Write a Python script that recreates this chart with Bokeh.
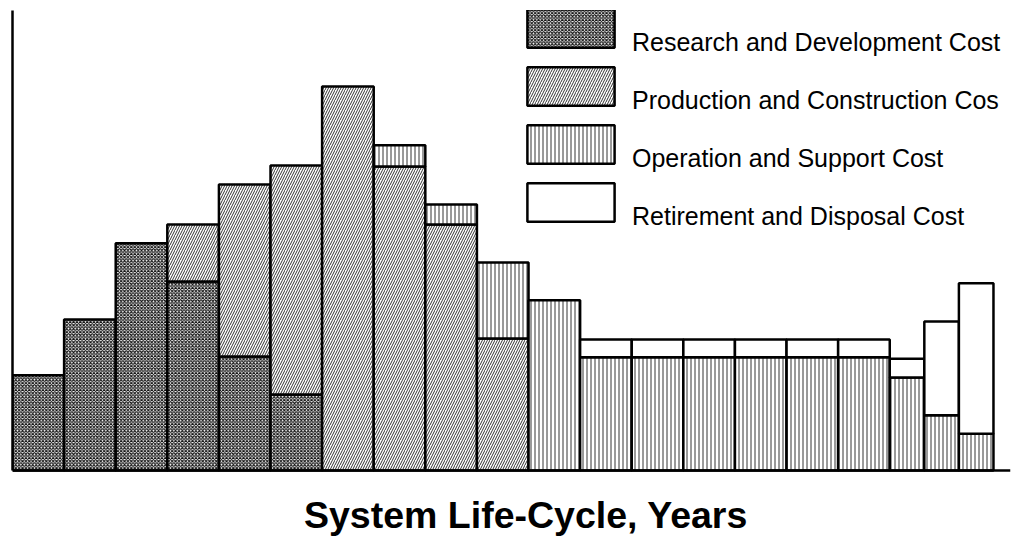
import numpy as np
from bokeh.plotting import figure
from bokeh.models import ColumnDataSource, Span, Legend, LegendItem, Label, Range1d
from bokeh.embed import file_html
from bokeh.resources import INLINE

# ---- data (cost units) ----
period_width = [1, 1, 1, 1, 1, 1, 1, 1, 1, 1, 1, 1, 1, 1, 1, 1, 1, 0.67, 0.67, 0.67]
research_dev = [20.7, 32.8, 49.4, 41.1, 24.8, 16.5, 0, 0, 0, 0, 0, 0, 0, 0, 0, 0, 0, 0, 0, 0]
production = [0, 0, 0, 12.4, 37.4, 49.8, 83.5, 66.1, 53.5, 28.7, 0, 0, 0, 0, 0, 0, 0, 0, 0, 0]
operation = [0, 0, 0, 0, 0, 0, 0, 4.6, 4.3, 16.5, 37.0, 24.6, 24.6, 24.6, 24.6, 24.6, 24.6, 20.2, 12.0, 8.0]
retirement = [0, 0, 0, 0, 0, 0, 0, 0, 0, 0, 0, 3.9, 3.9, 3.9, 3.9, 3.9, 3.9, 4.1, 20.4, 32.7]
series_names = ["Research and Development Cost", "Production and Construction Cos",
                "Operation and Support Cost", "Retirement and Disposal Cost"]
x_label = "System Life-Cycle, Years"

series = [research_dev, production, operation, retirement]
styles = [
    dict(fill_color="white", hatch_pattern="x", hatch_scale=3.4, hatch_weight=1.1, hatch_color="#111111"),
    dict(fill_color="white", hatch_pattern="/", hatch_scale=5.0, hatch_weight=1.0, hatch_color="#333333"),
    dict(fill_color="white", hatch_pattern="|", hatch_scale=4.0, hatch_weight=1.0, hatch_color="#333333"),
    dict(fill_color="white"),
]

widths = np.array(period_width, dtype=float)
right_edges = np.cumsum(widths)
left_edges = right_edges - widths

# frame extends to the bottom of the canvas; value 0 sits 66 px above it
p = figure(width=1014, height=536, output_backend="svg", toolbar_location=None,
           x_range=Range1d(0, 19.34), y_range=Range1d(-14.35, 100),
           x_axis_location=None, y_axis_location="left",
           min_border_left=12, min_border_right=4, min_border_top=10, min_border_bottom=0)
p.outline_line_color = None
p.xgrid.visible = False
p.ygrid.visible = False
p.background_fill_color = "white"
p.border_fill_color = "white"

ay = p.yaxis[0]
ay.bounds = (0, 100)
ay.axis_line_width = 2.5
ay.axis_line_color = "black"
ay.major_tick_line_color = None
ay.minor_tick_line_color = None
ay.major_tick_out = 0
ay.major_tick_in = 0
ay.minor_tick_out = 0
ay.minor_tick_in = 0
ay.major_label_standoff = 0
ay.major_label_text_font_size = "0px"
ay.major_label_text_color = None

bottom = np.zeros(len(widths))
renderers = []
for vals, st in zip(series, styles):
    v = np.array(vals, dtype=float)
    mask = v > 0
    src = ColumnDataSource(dict(left=left_edges[mask], right=right_edges[mask],
                                bottom=bottom[mask], top=(bottom + v)[mask]))
    r = p.quad(left="left", right="right", bottom="bottom", top="top", source=src,
               line_color="black", line_width=2.5, **st)
    renderers.append(r)
    bottom = bottom + v

# x axis line at value 0
p.add_layout(Span(location=0, dimension="width", line_color="black", line_width=2.5))

legend = Legend(items=[LegendItem(label="\n" + n, renderers=[r]) for n, r in zip(series_names, renderers)],
                location=(504, 305), orientation="vertical",
                glyph_width=109, glyph_height=48, spacing=0,
                label_standoff=7, padding=0, margin=0,
                border_line_color=None, background_fill_alpha=0,
                label_text_font="Liberation Sans", label_text_font_size="25px",
                label_text_color="black")
p.add_layout(legend, "center")

p.add_layout(Label(x=513.5, y=22, x_units="screen", y_units="screen", text=x_label,
                   text_align="center", text_baseline="alphabetic",
                   text_font="Liberation Sans", text_font_size="37.5px",
                   text_font_style="bold", text_color="black"))

open("out.html", "w").write(file_html(p, INLINE))
